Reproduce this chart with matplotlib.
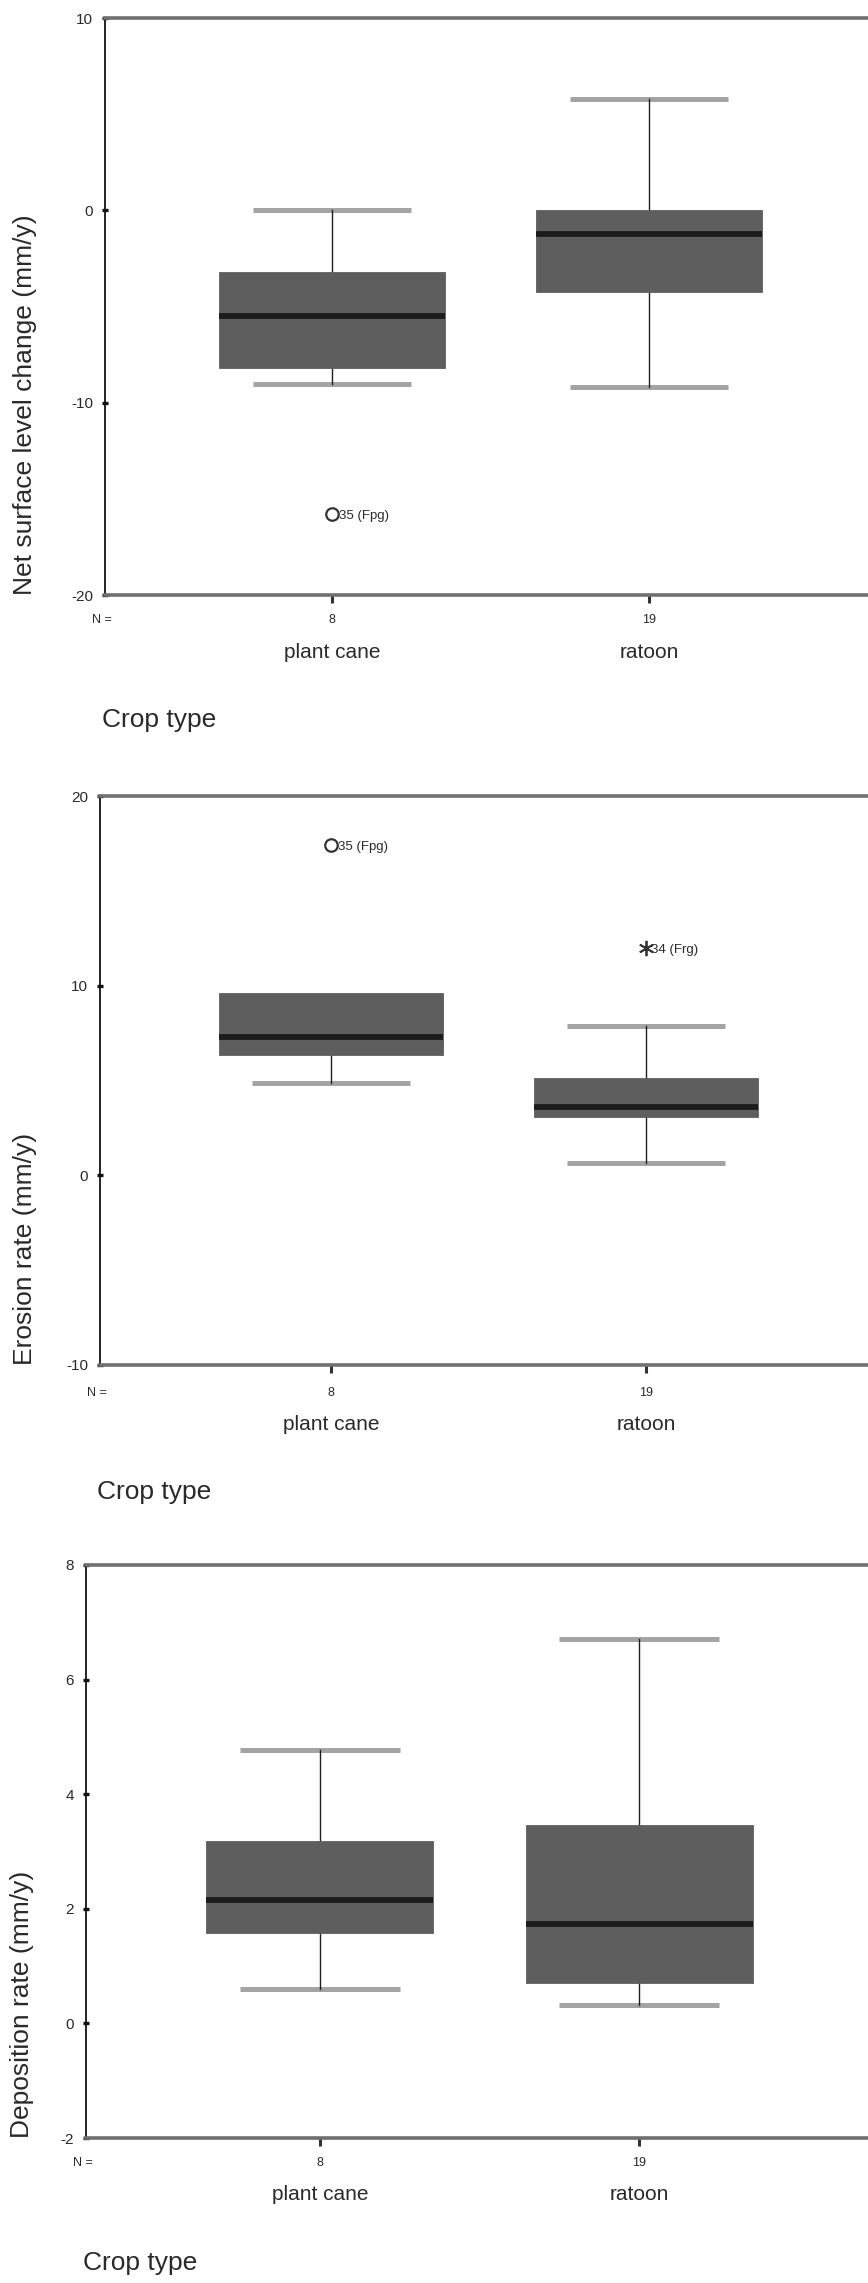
import matplotlib
matplotlib.use("Agg")
import matplotlib.pyplot as plt

plt.rcParams["font.family"] = ["Liberation Sans", "DejaVu Sans"]
plt.rcParams["axes.unicode_minus"] = False

# ---------------------------------------------------------------- data
crop_types = ["plant cane", "ratoon"]
n_obs = [8, 19]

# Net surface level change (mm/y)
net_whislo = [-9.05, -9.2]
net_q1 = [-8.2, -4.25]
net_med = [-5.5, -1.25]
net_q3 = [-3.2, 0.0]
net_whishi = [0.0, 5.8]
net_fliers = [[-15.8], []]
net_flier_kind = [["outlier"], []]
net_flier_labels = [["35 (Fpg)"], []]
net_yticks = [-20, -10, 0, 10]

# Erosion rate (mm/y)
ero_whislo = [4.89, 0.67]
ero_q1 = [6.35, 3.08]
ero_med = [7.31, 3.61]
ero_q3 = [9.63, 5.12]
ero_whishi = [9.63, 7.88]
ero_fliers = [[17.4], [12.0]]
ero_flier_kind = [["outlier"], ["extreme"]]
ero_flier_labels = [["35 (Fpg)"], ["34 (Frg)"]]
ero_yticks = [-10, 0, 10, 20]

# Deposition rate (mm/y)
dep_whislo = [0.60, 0.32]
dep_q1 = [1.58, 0.70]
dep_med = [2.15, 1.73]
dep_q3 = [3.18, 3.46]
dep_whishi = [4.78, 6.71]
dep_fliers = [[], []]
dep_flier_kind = [[], []]
dep_flier_labels = [[], []]
dep_yticks = [-2, 0, 2, 4, 6, 8]

# ---------------------------------------------------------------- style
W, H = 868, 2283
BOX = "#5e5e5e"
MEDIAN = "#1c1c1c"
CAP = "#a4a4a4"
WHISK = "#1e1e1e"
FRAME = "#707070"
TXT = "#2a2a2a"

fig = plt.figure(figsize=(W / 100, H / 100), dpi=100)
fig.patch.set_facecolor("white")


def add_panel(left, right, top, bottom, edge):
    ax = fig.add_axes([left / W, 1 - bottom / H, (right - left) / W, (bottom - top) / H])
    ax.set_xlim(1 - edge, 2 + edge)
    return ax


def draw_panel(ax, whislo, q1, med, q3, whishi, fliers, kinds, flabels,
               yticks, ylabel, ylabel_x, gaps):
    stats = []
    for i in range(len(crop_types)):
        stats.append(dict(whislo=whislo[i], q1=q1[i], med=med[i], q3=q3[i],
                          whishi=whishi[i], fliers=[], label=crop_types[i]))
    parts = ax.bxp(stats, positions=[1, 2], widths=0.71, capwidths=0.5,
                   patch_artist=True, showfliers=False,
                   boxprops=dict(facecolor=BOX, edgecolor=BOX, linewidth=0.6, zorder=3),
                   medianprops=dict(color=MEDIAN, linewidth=4.2, solid_capstyle="butt", zorder=4),
                   whiskerprops=dict(color=WHISK, linewidth=1.0, zorder=2.2),
                   capprops=dict(color=CAP, linewidth=3.6, solid_capstyle="butt", zorder=2))
    # no whisker or cap where the extreme value coincides with the hinge
    for i in range(len(crop_types)):
        if whislo[i] >= q1[i]:
            parts["caps"][2 * i].set_visible(False)
            parts["whiskers"][2 * i].set_visible(False)
        if whishi[i] <= q3[i]:
            parts["caps"][2 * i + 1].set_visible(False)
            parts["whiskers"][2 * i + 1].set_visible(False)

    for pos, vals, ks, labs in zip([1, 2], fliers, kinds, flabels):
        for v, k, lab in zip(vals, ks, labs):
            if k == "outlier":
                ax.plot(pos, v, marker="o", ms=9, mfc="none", mec="#333333",
                        mew=1.6, ls="none", zorder=5)
                dx = 7
            else:
                ax.plot(pos, v, marker=(6, 2, 0), ms=11, mec="#333333",
                        mew=1.3, ls="none", zorder=5)
                dx = 5
            ax.annotate(lab, xy=(pos, v), xytext=(dx, -2), textcoords="offset pixels",
                        ha="left", va="center", fontsize=9.5, color=TXT)

    ax.set_ylim(yticks[0], yticks[-1])
    ax.set_yticks(yticks)
    ax.set_yticklabels([str(t) for t in yticks], fontsize=11, color=TXT)
    ax.tick_params(axis="y", direction="inout", length=5, width=2.4, color="#111111", pad=6)
    ax.set_xticks([1, 2])
    ax.set_xticklabels([])
    ax.tick_params(axis="x", direction="out", length=6, width=2.2, color="#333333")

    for side in ("top", "bottom"):
        ax.spines[side].set_color(FRAME)
        ax.spines[side].set_linewidth(2.6)
    ax.spines["left"].set_color("#111111")
    ax.spines["left"].set_linewidth(1.3)
    ax.spines["right"].set_visible(False)

    n_gap, cat_gap, title_gap = gaps
    ax.annotate("N =", xy=(0, 0), xycoords="axes fraction", xytext=(-3, -n_gap),
                textcoords="offset pixels", ha="center", va="center",
                fontsize=9, color=TXT)
    for pos, n, name in zip([1, 2], n_obs, crop_types):
        ax.annotate(str(n), xy=(pos, 0), xycoords=("data", "axes fraction"),
                    xytext=(0, -n_gap), textcoords="offset pixels",
                    ha="center", va="center", fontsize=9, color=TXT)
        ax.annotate(name, xy=(pos, 0), xycoords=("data", "axes fraction"),
                    xytext=(0, -cat_gap), textcoords="offset pixels",
                    ha="center", va="center", fontsize=15, color=TXT)
    ax.annotate("Crop type", xy=(0, 0), xycoords="axes fraction", xytext=(-3, -title_gap),
                textcoords="offset pixels", ha="left", va="center",
                fontsize=19, color=TXT)

    # rotated value-axis title, anchored at the bottom of the frame
    bbox = ax.get_position()
    fig.text(ylabel_x / W, bbox.y0, ylabel, rotation=90, ha="center", va="bottom",
             fontsize=19, color=TXT)


ax1 = add_panel(105, 876, 18, 595, 0.716)
draw_panel(ax1, net_whislo, net_q1, net_med, net_q3, net_whishi, net_fliers,
           net_flier_kind, net_flier_labels, net_yticks,
           "Net surface level change (mm/y)", 25, (25, 58, 125))

ax2 = add_panel(100, 877, 796, 1365, 0.733)
draw_panel(ax2, ero_whislo, ero_q1, ero_med, ero_q3, ero_whishi, ero_fliers,
           ero_flier_kind, ero_flier_labels, ero_yticks,
           "Erosion rate (mm/y)", 25, (28, 60, 127))

ax3 = add_panel(86, 873, 1565, 2138, 0.732)
draw_panel(ax3, dep_whislo, dep_q1, dep_med, dep_q3, dep_whishi, dep_fliers,
           dep_flier_kind, dep_flier_labels, dep_yticks,
           "Deposition rate (mm/y)", 22, (25, 57, 125))

fig.savefig("out.png", dpi=100, facecolor="white")
